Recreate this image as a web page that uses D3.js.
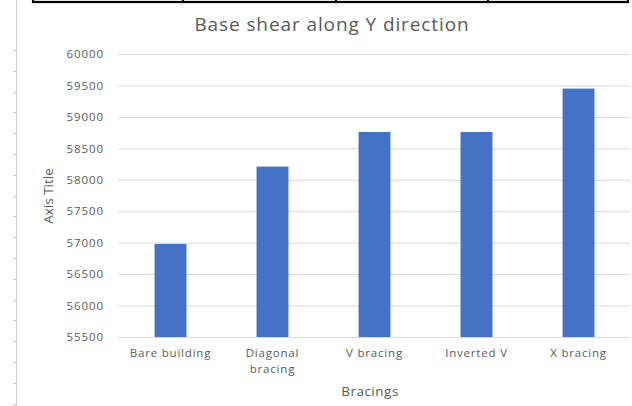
<!DOCTYPE html>
<html>
<head>
<meta charset="utf-8">
<script src="https://cdn.jsdelivr.net/npm/d3@7"></script>
<style>
  body { margin: 0; background: #fff; }
  svg { display: block; }
</style>
</head>
<body>
<div id="chart"></div>
<script>
// data
const categories = ["Bare building", "Diagonal bracing", "V bracing", "Inverted V", "X bracing"];
const baseShear = [56980, 58210, 58760, 58760, 59450];
const yTicks = [55500, 56000, 56500, 57000, 57500, 58000, 58500, 59000, 59500, 60000];

const W = 632, H = 406;
const font = "'Open Sans', sans-serif";

const svg = d3.select("#chart")
    .append("svg")
    .attr("width", W)
    .attr("height", H);

// bit of the table sitting above the chart
svg.append("rect")
    .attr("x", 33).attr("y", -10)
    .attr("width", 595).attr("height", 12)
    .attr("fill", "none")
    .attr("stroke", "#000")
    .attr("stroke-width", 2.2);
[183, 336, 488].forEach(x => {
    svg.append("line")
        .attr("x1", x).attr("x2", x)
        .attr("y1", 0).attr("y2", 2)
        .attr("stroke", "#000").attr("stroke-width", 2);
});

// page ruler on the left
svg.append("line")
    .attr("x1", 16.5).attr("x2", 16.5)
    .attr("y1", 0).attr("y2", H)
    .attr("stroke", "#d0d0d0");
svg.append("g")
    .selectAll("line")
    .data(d3.range(50, H, 20.8))
    .join("line")
    .attr("x1", 13).attr("x2", 16)
    .attr("y1", d => Math.round(d) + 0.5)
    .attr("y2", d => Math.round(d) + 0.5)
    .attr("stroke", "#c8c8c8");

// scales
const x = d3.scaleBand()
    .domain(categories)
    .range([119.5, 629.5])
    .paddingInner(0.687)
    .paddingOuter(0.3435);

const y = d3.scaleLinear()
    .domain([55500, 60000])
    .range([337, 54]);

// gridlines + tick labels
const yAxis = svg.append("g")
    .attr("transform", "translate(118,0)")
    .call(d3.axisLeft(y).tickValues(yTicks).tickSize(-512).tickPadding(14).tickFormat(d3.format("d")));
yAxis.select(".domain").remove();
yAxis.selectAll(".tick line").attr("stroke", "#d9d9d9");
yAxis.selectAll(".tick text")
    .attr("fill", "#595959")
    .style("font-family", font)
    .style("font-size", "11.5px")
    .style("letter-spacing", "0.9px");

// bars
svg.append("g")
    .selectAll("rect")
    .data(categories)
    .join("rect")
    .attr("x", d => x(d))
    .attr("width", x.bandwidth())
    .attr("y", (d, i) => y(baseShear[i]))
    .attr("height", (d, i) => y(55500) - y(baseShear[i]))
    .attr("fill", "#4472c4");

// x axis line
svg.append("line")
    .attr("x1", 118).attr("x2", 630)
    .attr("y1", Math.round(y(55500)) + 0.5).attr("y2", Math.round(y(55500)) + 0.5)
    .attr("stroke", "#d9d9d9");

// category labels (wrap long ones)
const xLabels = svg.append("g")
    .selectAll("text")
    .data(categories)
    .join("text")
    .attr("x", d => x(d) + x.bandwidth() / 2)
    .attr("y", 357)
    .attr("text-anchor", "middle")
    .attr("fill", "#595959")
    .style("font-family", font)
    .style("font-size", "11.5px")
    .style("letter-spacing", "0.8px");
xLabels.each(function(d) {
    const t = d3.select(this);
    const words = d.length > 13 ? d.split(" ") : [d];
    words.forEach((w, i) => {
        t.append("tspan")
            .attr("x", x(d) + x.bandwidth() / 2)
            .attr("dy", i === 0 ? 0 : 16)
            .text(w);
    });
});

// titles
svg.append("text")
    .attr("x", 332)
    .attr("y", 31)
    .attr("text-anchor", "middle")
    .attr("fill", "#595959")
    .style("font-family", font)
    .style("font-size", "19px")
    .style("letter-spacing", "0.9px")
    .text("Base shear along Y direction");

svg.append("text")
    .attr("x", 370)
    .attr("y", 396)
    .attr("text-anchor", "middle")
    .attr("fill", "#595959")
    .style("font-family", font)
    .style("font-size", "13.5px")
    .style("letter-spacing", "0.5px")
    .text("Bracings");

svg.append("text")
    .attr("transform", "translate(53,196) rotate(-90)")
    .attr("text-anchor", "middle")
    .attr("fill", "#595959")
    .style("font-family", "'Liberation Sans Narrow', " + font)
    .style("font-size", "13.5px")
    .text("Axis Title");
</script>
</body>
</html>
